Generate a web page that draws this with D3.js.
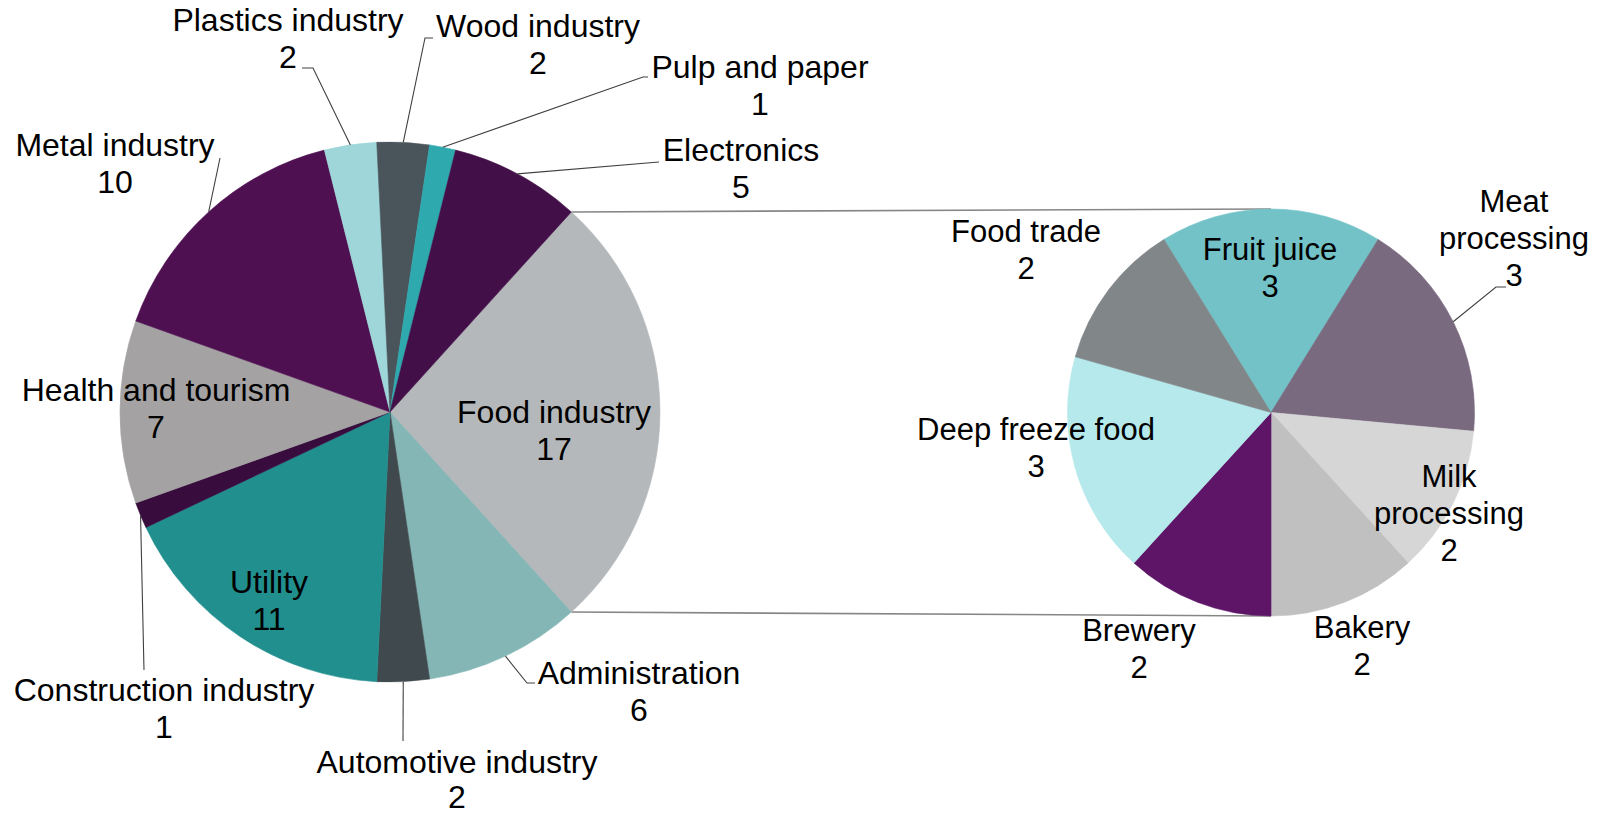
<!DOCTYPE html>
<html>
<head>
<meta charset="utf-8">
<script src="https://cdn.jsdelivr.net/npm/d3@7"></script>
<style>
  html, body { margin: 0; padding: 0; background: #ffffff; }
  svg { display: block; }
  text { font-family: "Liberation Sans", Arial, sans-serif; fill: #000; }
</style>
</head>
<body>
<svg id="chart" width="1609" height="816"></svg>
<script>
// Sectors (main pie) — the food industry slice is broken out into the second pie
const mainCategories = ["Food industry", "Administration", "Automotive industry", "Utility",
  "Construction industry", "Health and tourism", "Metal industry", "Plastics industry",
  "Wood industry", "Pulp and paper", "Electronics"];
const mainValues = [17, 6, 2, 11, 1, 7, 10, 2, 2, 1, 5];
const mainColors = ["#b5b8bb", "#84b6b6", "#40494e", "#228f8f", "#380c3d", "#a4a2a3",
  "#4f1052", "#9ed6d9", "#4a555b", "#2eaaaf", "#430f48"];

// Food industry breakdown (secondary pie)
const subCategories = ["Fruit juice", "Meat processing", "Milk processing", "Bakery",
  "Brewery", "Deep freeze food", "Food trade"];
const subValues = [3, 3, 2, 2, 2, 3, 2];
const subColors = ["#72c2c7", "#796a80", "#d6d6d6", "#c0c0c0", "#5e1568", "#b5e9eb", "#818689"];

// Label placement: centre x, first-line baseline y, optional line break, optional leader path
const mainLabelLayout = [
  { x: 554, y: 423 },
  { x: 639, y: 684, leader: [[527, 683], [535, 683]] },
  { x: 457, y: 773, step: 35, leader: [[403, 741]] },
  { x: 269, y: 593 },
  { x: 164, y: 701, leader: [[144, 670]] },
  { x: 156, y: 401 },
  { x: 115, y: 156, leader: [[220, 158]] },
  { x: 288, y: 31, leader: [[313, 68], [302, 68]] },
  { x: 538, y: 37, leader: [[425, 38], [433, 38]] },
  { x: 760, y: 78, leader: [[643, 77], [648, 77]] },
  { x: 741, y: 161, leader: [[659, 162]] }
];
const subLabelLayout = [
  { x: 1270, y: 260 },
  { x: 1514, y: 212, split: 4, leader: [[1496, 287], [1506, 287]] },
  { x: 1449, y: 487, split: 4 },
  { x: 1362, y: 638 },
  { x: 1139, y: 641 },
  { x: 1036, y: 440 },
  { x: 1026, y: 242 }
];

const svg = d3.select("#chart");
const mainCenter = [390, 412], mainR = 270;
const subCenter = [1271, 412.5], subR = 203.5;
const lineStep = 37;

const mainTotal = d3.sum(mainValues);
const subTotal = d3.sum(subValues);

// Broken-out slice is centred on the 3 o'clock direction, the first sub-slice on 12 o'clock
const mainStart = Math.PI / 2 - (mainValues[0] / mainTotal) * Math.PI;
const subStart = -(subValues[0] / subTotal) * Math.PI;

const mainPie = d3.pie().sort(null).startAngle(mainStart).endAngle(mainStart + 2 * Math.PI);
const subPie = d3.pie().sort(null).startAngle(subStart).endAngle(subStart + 2 * Math.PI);

const mainArcs = mainPie(mainValues);
const subArcs = subPie(subValues);

const mainArc = d3.arc().innerRadius(0).outerRadius(mainR);
const subArc = d3.arc().innerRadius(0).outerRadius(subR);
const mainEdge = d3.arc().innerRadius(mainR).outerRadius(mainR);
const subEdge = d3.arc().innerRadius(subR).outerRadius(subR);

// Connector lines from the food industry slice to the secondary pie
const food = mainArcs[0];
const polar = (c, r, a) => [c[0] + r * Math.sin(a), c[1] - r * Math.cos(a)];
const conn = svg.append("g").attr("class", "connectors");
[[food.startAngle, subCenter[1] - subR], [food.endAngle, subCenter[1] + subR]].forEach(([a, y2]) => {
  const p = polar(mainCenter, mainR, a);
  conn.append("line")
    .attr("x1", p[0]).attr("y1", p[1])
    .attr("x2", subCenter[0]).attr("y2", y2)
    .attr("stroke", "#868686").attr("stroke-width", 1.6);
});

function drawPie(arcs, arcGen, center, colors) {
  svg.append("g")
    .attr("transform", `translate(${center[0]},${center[1]})`)
    .selectAll("path")
    .data(arcs)
    .join("path")
    .attr("d", arcGen)
    .attr("fill", (d, i) => colors[i])
    .attr("stroke", (d, i) => colors[i])
    .attr("stroke-width", 0.6);
}
drawPie(mainArcs, mainArc, mainCenter, mainColors);
drawPie(subArcs, subArc, subCenter, subColors);

function drawLabels(arcs, edgeGen, center, categories, values, layout, fontSize) {
  const g = svg.append("g");
  arcs.forEach((d, i) => {
    const L = layout[i];
    if (L.leader) {
      const c = edgeGen.centroid(d);
      const pts = [[center[0] + c[0], center[1] + c[1]], ...L.leader];
      g.append("path")
        .attr("d", d3.line()(pts))
        .attr("fill", "none")
        .attr("stroke", "#404040")
        .attr("stroke-width", 1.1);
    }
    const name = categories[i];
    const lines = L.split ? [name.slice(0, L.split), name.slice(L.split + 1)] : [name];
    lines.push(String(values[i]));
    const step = L.step || lineStep;
    const t = g.append("text")
      .attr("text-anchor", "middle")
      .attr("font-size", fontSize);
    lines.forEach((s, k) => {
      t.append("tspan").attr("x", L.x).attr("y", L.y + k * step).text(s);
    });
  });
}
drawLabels(mainArcs, mainEdge, mainCenter, mainCategories, mainValues, mainLabelLayout, 32);
drawLabels(subArcs, subEdge, subCenter, subCategories, subValues, subLabelLayout, 31);
</script>
</body>
</html>
